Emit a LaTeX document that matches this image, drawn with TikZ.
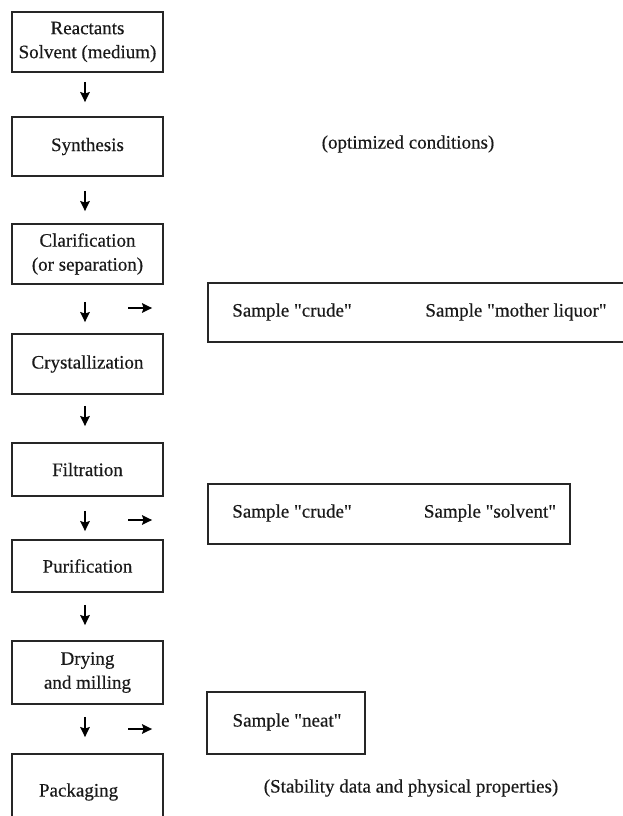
\documentclass[tikz,border=0pt]{standalone}
\usepackage{fontspec}
\setmainfont{Liberation Serif}[FakeBold=0.4]
\usetikzlibrary{arrows.meta}
\newcommand{\qq}{\XeTeXglyph\XeTeXcharglyph"22\relax}
\begin{document}
\begin{tikzpicture}[x=1pt,y=-1pt,
  every node/.style={font=\fontsize{19}{24}\selectfont, text=black!90},
  stepbox/.style={draw=black!85, line width=1.8pt, minimum width=151pt, inner sep=0pt, align=center},
  samplebox/.style={draw=black!85, line width=1.8pt, inner sep=0pt},
  arr/.style={line width=2pt, black, -{Stealth[length=10pt,width=9.5pt,inset=1.5pt]}},
  lbl/.style={inner sep=0pt, anchor=center}]
\useasboundingbox (0,0) rectangle (623,816);
\clip (0,0) rectangle (623,816);
\fill[white] (0,0) rectangle (623,816);

% process column
\node[stepbox, minimum height=60pt] (r1) at (87.5,42) {Reactants\\Solvent (medium)};
\node[stepbox, minimum height=59pt] (r2) at (87.5,146.5) {Synthesis};
\node[stepbox, minimum height=60pt] (r3) at (87.5,254) {Clarification\\(or separation)};
\node[stepbox, minimum height=60pt] (r4) at (87.5,364) {Crystallization};
\node[stepbox, minimum height=53pt] (r5) at (87.5,469.5) {Filtration};
\node[stepbox, minimum height=52pt] (r6) at (87.5,566) {Purification};
\node[stepbox, minimum height=63pt] (r7) at (87.5,672.5) {Drying\\and milling};
\node[stepbox, minimum height=76pt, text width=151pt, align=left] (r8) at (87.5,792) {\hspace*{27pt}Packaging};

% down arrows (free-standing between boxes)
\draw[arr] ([shift={(-2.5,9)}]r1.south) -- ([shift={(-2.5,-14)}]r2.north);
\draw[arr] ([shift={(-2.5,14)}]r2.south) -- ([shift={(-2.5,-12)}]r3.north);
\draw[arr] ([shift={(-2.5,17)}]r3.south) -- ([shift={(-2.5,-11)}]r4.north);
\draw[arr] ([shift={(-2.5,11)}]r4.south) -- ([shift={(-2.5,-16)}]r5.north);
\draw[arr] ([shift={(-2.5,14)}]r5.south) -- ([shift={(-2.5,-8)}]r6.north);
\draw[arr] ([shift={(-2.5,12)}]r6.south) -- ([shift={(-2.5,-15)}]r7.north);
\draw[arr] ([shift={(-2.5,12)}]r7.south) -- ([shift={(-2.5,-16)}]r8.north);

% sample boxes
\node[samplebox, minimum width=440pt, minimum height=59pt] (sA) at (428,312.5) {};
\node[lbl] (sAc) at (292,312) {Sample \qq crude\qq};
\node[lbl] (sAm) at (516,312) {Sample \qq mother liquor\qq};

\node[samplebox, minimum width=362pt, minimum height=60pt] (sB) at (389,514) {};
\node[lbl] (sBc) at (292,513) {Sample \qq crude\qq};
\node[lbl] (sBs) at (490,513) {Sample \qq solvent\qq};

\node[samplebox, minimum width=158pt, minimum height=62pt] (sC) at (286,723) {};
\node[lbl] (sCn) at (287,722) {Sample \qq neat\qq};

% right arrows toward sample boxes
\coordinate (a1) at (128,308);
\coordinate (a2) at (128,520);
\coordinate (a3) at (128,729);
\draw[arr] (a1) -- ([xshift=-55pt]sA.west |- a1);
\draw[arr] (a2) -- ([xshift=-55pt]sB.west |- a2);
\draw[arr] (a3) -- ([xshift=-54pt]sC.west |- a3);

% side notes
\node[lbl] (opt) at (408,144) {(optimized conditions)};
\node[lbl] (stab) at (411,788) {(Stability data and physical properties)};
\end{tikzpicture}
\end{document}
